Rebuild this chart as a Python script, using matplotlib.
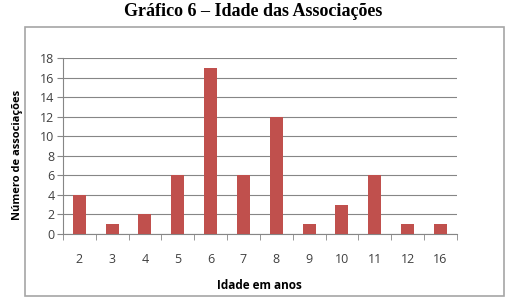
import matplotlib.pyplot as plt
from matplotlib.patches import Rectangle

idades = ['2', '3', '4', '5', '6', '7', '8', '9', '10', '11', '12', '16']
associacoes = [4, 1, 2, 6, 17, 6, 12, 1, 3, 6, 1, 1]

fig = plt.figure(figsize=(5.11, 2.98), dpi=100)
plt.rcParams['font.family'] = ['Open Sans', 'DejaVu Sans']

# moldura do gráfico
fig.patches.append(Rectangle((25 / 511, 2 / 298), 479 / 511, 269 / 298,
                             transform=fig.transFigure, fill=False,
                             edgecolor='#a6a6a6', linewidth=1.2))

fig.text(0.495, 0.962, 'Gráfico 6 – Idade das Associações', ha='center', va='center',
         family='Liberation Serif', fontweight='bold', fontsize=13)

ax = fig.add_axes([0.123, 0.215, 0.771, 0.59])
x = range(len(idades))
ax.bar(x, associacoes, width=0.4, color='#c0504d', zorder=3)

ax.set_xlim(-0.5, len(idades) - 0.5)
ax.set_ylim(0, 18)
ax.set_yticks(range(0, 19, 2))
ax.set_xticks(list(x))
ax.set_xticklabels(idades)
ax.set_xticks([i - 0.5 for i in range(len(idades) + 1)], minor=True)
ax.tick_params(axis='x', which='major', length=0, pad=14, labelsize=9, labelcolor='#404040')
ax.tick_params(axis='x', which='minor', length=4, color='#868686')
ax.tick_params(axis='y', length=4, pad=2, color='#868686', labelsize=9, labelcolor='#404040')
ax.grid(axis='y', color='#868686', linewidth=0.8, zorder=0)

for s in ['top', 'right']:
    ax.spines[s].set_visible(False)
for s in ['left', 'bottom']:
    ax.spines[s].set_color('#868686')

ax.set_ylabel('Número de associações', fontweight='bold', fontsize=8)
ax.yaxis.set_label_coords(-0.1, 0.45)
ax.set_xlabel('Idade em anos', fontweight='bold', fontsize=8.5)
ax.xaxis.set_label_coords(0.5, -0.255)

fig.savefig('out.png', dpi=100)
